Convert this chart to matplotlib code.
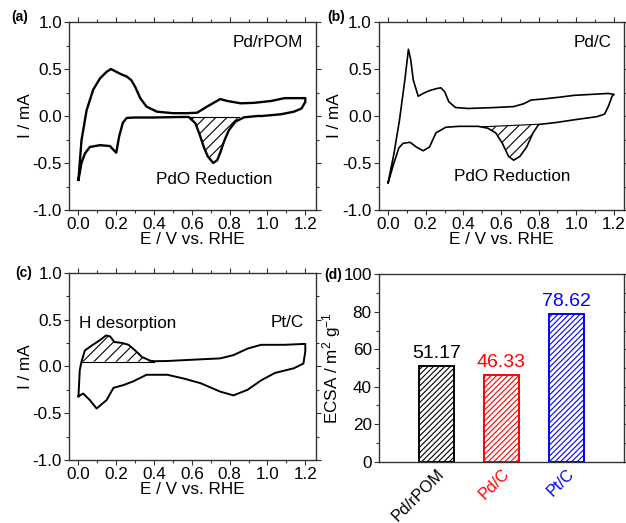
import matplotlib
matplotlib.use("Agg")
import matplotlib.pyplot as plt
import matplotlib.transforms as mtransforms
import numpy as np

plt.rcParams['font.family'] = ['Liberation Sans', 'DejaVu Sans']
plt.rcParams['mathtext.fontset'] = 'custom'
plt.rcParams['mathtext.rm'] = 'Liberation Sans'
plt.rcParams['mathtext.it'] = 'Liberation Sans:italic'
plt.rcParams['mathtext.default'] = 'regular'
plt.rcParams['hatch.linewidth'] = 0.8

# ---------------- data ----------------
# (a) Pd/rPOM
a_anodic_E = [0.0, 0.016, 0.043, 0.078, 0.114, 0.149, 0.172, 0.20, 0.23, 0.256, 0.28, 0.30, 0.327, 0.36, 0.415,
              0.50, 0.575, 0.628, 0.68, 0.75, 0.787, 0.858, 0.929, 1.02, 1.09, 1.2]
a_anodic_I = [-0.68, -0.26, 0.06, 0.28, 0.40, 0.47, 0.50, 0.47, 0.44, 0.42, 0.38, 0.31, 0.19, 0.10, 0.046,
              0.03, 0.03, 0.035, 0.10, 0.18, 0.16, 0.135, 0.14, 0.16, 0.19, 0.19]
a_cathodic_E = [1.2, 1.18, 1.14, 1.07, 0.97, 0.947, 0.876, 0.83, 0.796, 0.77, 0.752, 0.734, 0.713, 0.684, 0.663,
                0.645, 0.619, 0.583, 0.50, 0.40, 0.30, 0.256, 0.235, 0.215, 0.20, 0.185, 0.167, 0.114, 0.06, 0.034,
                0.016, 0.0]
a_cathodic_I = [0.15, 0.08, 0.046, 0.018, 0.0, 0.0, -0.014, -0.06, -0.15, -0.27, -0.38, -0.47, -0.50, -0.43, -0.33,
                -0.22, -0.078, -0.01, -0.012, -0.016, -0.016, -0.02, -0.07, -0.22, -0.39, -0.36, -0.32, -0.31,
                -0.33, -0.40, -0.50, -0.68]
a_hatch_range = (0.583, 0.85)
a_baseline = -0.01

# (b) Pd/C
b_anodic_E = [0.0, 0.031, 0.06, 0.09, 0.108, 0.12, 0.134, 0.16, 0.186, 0.22, 0.254, 0.28, 0.30, 0.323, 0.358, 0.426,
              0.564, 0.667, 0.72, 0.76, 0.82, 0.91, 0.99, 1.08, 1.17, 1.2]
b_anodic_I = [-0.71, -0.40, -0.05, 0.40, 0.71, 0.60, 0.38, 0.21, 0.24, 0.27, 0.29, 0.30, 0.26, 0.15, 0.09, 0.08,
              0.09, 0.10, 0.13, 0.17, 0.18, 0.20, 0.22, 0.23, 0.24, 0.23]
b_cathodic_E = [1.2, 1.19, 1.17, 1.15, 1.11, 0.99, 0.89, 0.80, 0.77, 0.736, 0.70, 0.667, 0.64, 0.607, 0.572, 0.53,
                0.478, 0.375, 0.306, 0.254, 0.22, 0.186, 0.15, 0.117, 0.08, 0.057, 0.031, 0.0]
b_cathodic_I = [0.23, 0.21, 0.10, 0.02, -0.007, -0.04, -0.07, -0.09, -0.18, -0.33, -0.43, -0.47, -0.43, -0.29, -0.18,
                -0.13, -0.11, -0.11, -0.12, -0.18, -0.33, -0.37, -0.33, -0.28, -0.29, -0.34, -0.50, -0.71]
b_hatch_range = (0.50, 0.80)
b_baseline = (-0.115, -0.088)

# (c) Pt/C
c_anodic_E = [0.0, 0.007, 0.016, 0.034, 0.069, 0.114, 0.146, 0.167, 0.19, 0.23, 0.265, 0.30, 0.336, 0.38, 0.40, 0.47,
              0.575, 0.75, 0.82, 0.895, 0.966, 1.09, 1.2]
c_anodic_I = [-0.32, -0.04, 0.05, 0.17, 0.22, 0.28, 0.33, 0.32, 0.26, 0.25, 0.23, 0.17, 0.10, 0.06, 0.055, 0.057,
              0.068, 0.085, 0.12, 0.19, 0.23, 0.23, 0.24]
c_cathodic_E = [1.2, 1.19, 1.14, 1.04, 0.966, 0.895, 0.82, 0.75, 0.646, 0.557, 0.47, 0.36, 0.29, 0.238, 0.185,
                0.149, 0.096, 0.06, 0.025, 0.0]
c_cathodic_I = [0.16, 0.03, -0.02, -0.07, -0.15, -0.25, -0.31, -0.27, -0.18, -0.13, -0.09, -0.09, -0.16, -0.20,
                -0.23, -0.36, -0.45, -0.36, -0.29, -0.32]
c_hatch_range = (0.016, 0.40)
c_baseline = 0.05

# (d) ECSA
categories = ['Pd/rPOM', 'Pd/C', 'Pt/C']
ecsa = [51.17, 46.33, 78.62]
value_labels = ['51.17', '46.33', '78.62']
bar_colors = ['black', 'red', 'blue']

# ---------------- figure ----------------
fig = plt.figure(figsize=(6.26, 5.23), dpi=100)
W, H = 626, 523
def rect(l, r, t, b):
    return [l / W, 1 - b / H, (r - l) / W, (b - t) / H]

ax_a = fig.add_axes(rect(69, 315.7, 22, 210))
ax_b = fig.add_axes(rect(378.7, 624.3, 22, 210))
ax_c = fig.add_axes(rect(69, 315.7, 272.7, 460))
ax_d = fig.add_axes(rect(378.7, 624.3, 274.3, 461.7))

spine_col = '#333333'
FS = 12.3

def style(ax):
    for s in ax.spines.values():
        s.set_color(spine_col)
        s.set_linewidth(1.0)
    ax.tick_params(which='both', direction='out', top=True, right=True, labelsize=FS,
                   color=spine_col, pad=1.5)
    ax.tick_params(which='major', length=3.5, width=0.8)
    ax.tick_params(which='minor', length=2, width=0.8)

def cv_panel(ax, aE, aI, cE, cI, lw):
    E = list(aE) + list(cE)
    I = list(aI) + list(cI)
    ax.plot(E, I, color='black', lw=lw)
    ax.set_xlim(-0.05, 1.255)
    ax.set_ylim(-1.0, 1.0)
    ax.set_xticks(np.arange(0, 1.21, 0.2))
    ax.set_xticks(np.arange(0.1, 1.21, 0.2), minor=True)
    ax.set_yticks([-1.0, -0.5, 0.0, 0.5, 1.0])
    ax.set_yticks([-0.75, -0.25, 0.25, 0.75], minor=True)
    ax.xaxis.set_major_formatter(matplotlib.ticker.FormatStrFormatter('%.1f'))
    ax.yaxis.set_major_formatter(matplotlib.ticker.FormatStrFormatter('%.1f'))
    ax.set_xlabel('E / V vs. RHE', fontsize=FS, labelpad=0)
    ax.set_ylabel('I / mA', fontsize=FS, labelpad=0)
    style(ax)

def hatch_region(ax, E, I, rng, base):
    lo, hi = rng
    if np.isscalar(base):
        b0, b1 = base, base
    else:
        b0, b1 = base
    pts = [(e, i) for e, i in zip(E, I) if lo <= e <= hi]
    pts.sort()
    poly_x = [lo] + [p[0] for p in pts] + [hi]
    poly_y = [b0] + [p[1] for p in pts] + [b1]
    ax.fill(poly_x, poly_y, facecolor='none', edgecolor='black', hatch='///', lw=0)
    ax.plot([lo, hi], [b0, b1], color='black', lw=0.8)

# (a)
cv_panel(ax_a, a_anodic_E, a_anodic_I, a_cathodic_E, a_cathodic_I, 1.7)
hatch_region(ax_a, a_cathodic_E, a_cathodic_I, a_hatch_range, a_baseline)
ax_a.text(1.19, 0.78, 'Pd/rPOM', ha='right', va='center', fontsize=FS)
ax_a.text(0.72, -0.68, 'PdO Reduction', ha='center', va='center', fontsize=FS)

# (b)
cv_panel(ax_b, b_anodic_E, b_anodic_I, b_cathodic_E, b_cathodic_I, 1.2)
hatch_region(ax_b, b_cathodic_E, b_cathodic_I, b_hatch_range, b_baseline)
ax_b.text(1.19, 0.78, 'Pd/C', ha='right', va='center', fontsize=FS)
ax_b.text(0.66, -0.645, 'PdO Reduction', ha='center', va='center', fontsize=FS)

# (c)
cv_panel(ax_c, c_anodic_E, c_anodic_I, c_cathodic_E, c_cathodic_I, 1.4)
hatch_region(ax_c, c_anodic_E, c_anodic_I, c_hatch_range, c_baseline)
ax_c.text(1.19, 0.47, 'Pt/C', ha='right', va='center', fontsize=FS)
ax_c.text(0.005, 0.46, 'H desorption', ha='left', va='center', fontsize=FS)

# (d)
x = np.arange(1, len(categories) + 1)
for xi, v, c, lab in zip(x, ecsa, bar_colors, value_labels):
    ax_d.bar(xi, v, width=0.54, facecolor='white', edgecolor=c, hatch='//////', lw=1.4)
    ax_d.annotate(lab, (xi, v), xytext=(0, 3), textcoords='offset points',
                  ha='center', va='bottom', color=c, fontsize=14)
ax_d.set_xlim(0.1, 3.9)
ax_d.set_ylim(0, 100)
ax_d.set_yticks(np.arange(0, 101, 20))
ax_d.set_yticks(np.arange(10, 100, 20), minor=True)
ax_d.set_xticks(x)
ax_d.set_xticklabels(categories, rotation=45, ha='right', va='top', rotation_mode='anchor')
offset = mtransforms.ScaledTranslation(10 / 100, 8 / 100, fig.dpi_scale_trans)
for tl, c in zip(ax_d.get_xticklabels(), bar_colors):
    tl.set_color(c)
    tl.set_transform(tl.get_transform() + offset)
ax_d.set_ylabel('ECSA / m$^2$ g$^{-1}$', fontsize=FS, labelpad=0)
style(ax_d)
ax_d.tick_params(axis='x', which='both', length=0, pad=3, labelsize=11.7)

# panel letters
for lbl, (px, py) in zip(['(a)', '(b)', '(c)', '(d)'], [(20, 17), (336, 17), (24, 273), (333, 275)]):
    fig.text(px / W, 1 - py / H, lbl, ha='center', va='center', fontsize=10, fontweight='bold')

fig.savefig('out.png', dpi=100)
